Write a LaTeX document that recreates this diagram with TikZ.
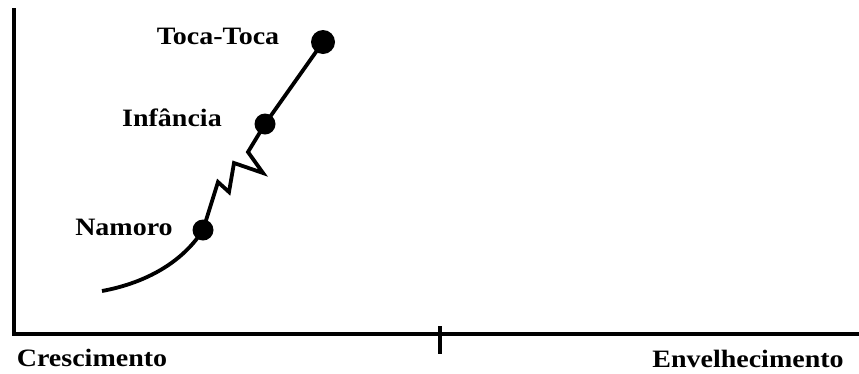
\documentclass[tikz,border=0pt]{standalone}
\usepackage{fontspec}
\setmainfont{Liberation Serif}
\begin{document}
\begin{tikzpicture}[x=1pt,y=-1pt,
  lbl/.style={font=\bfseries\fontsize{25}{28}\selectfont, inner sep=0pt, xscale=1.12, transform shape},
  dot/.style={circle, fill=black, inner sep=0pt, minimum size=#1},
  axis/.style={line width=4pt},
  curve/.style={line width=3.8pt, line join=miter}]
\useasboundingbox (0,0) rectangle (859,373);
% axes
\coordinate (ytop) at (14,8);
\coordinate (origin) at (14,334);
\coordinate (xend) at (859,334);
\coordinate (tickT) at (440,326);
\coordinate (tickB) at (440,354);
\draw[axis] (ytop) -- (origin) -- (xend);
\draw[axis] (tickT) -- (tickB);
% dots
\node[dot=21pt] (n) at (203,230) {};
\node[dot=21pt] (i) at (265,124) {};
\node[dot=24pt] (t) at (323,42) {};
% curve
\coordinate (s) at (102,291);
\coordinate (z1) at (218,182);
\coordinate (z2) at (229,192);
\coordinate (z3) at (234,163);
\coordinate (z4) at (263,173);
\coordinate (z5) at (248,152);
\draw[curve] (s) .. controls (140,284) and (180,266) .. (n.center);
\draw[curve] (n.center) -- (z1) -- (z2) -- (z3) -- (z4) -- (z5) -- (i.center) -- (t.center);
% labels
\node[lbl] (lt) at (218,36) {Toca-Toca};
\node[lbl] (li) at (172,118) {Infância};
\node[lbl] (ln) at (124,227) {Namoro};
\node[lbl] (lc) at (92,358) {Crescimento};
\node[lbl] (le) at (748,359) {Envelhecimento};
\end{tikzpicture}
\end{document}
